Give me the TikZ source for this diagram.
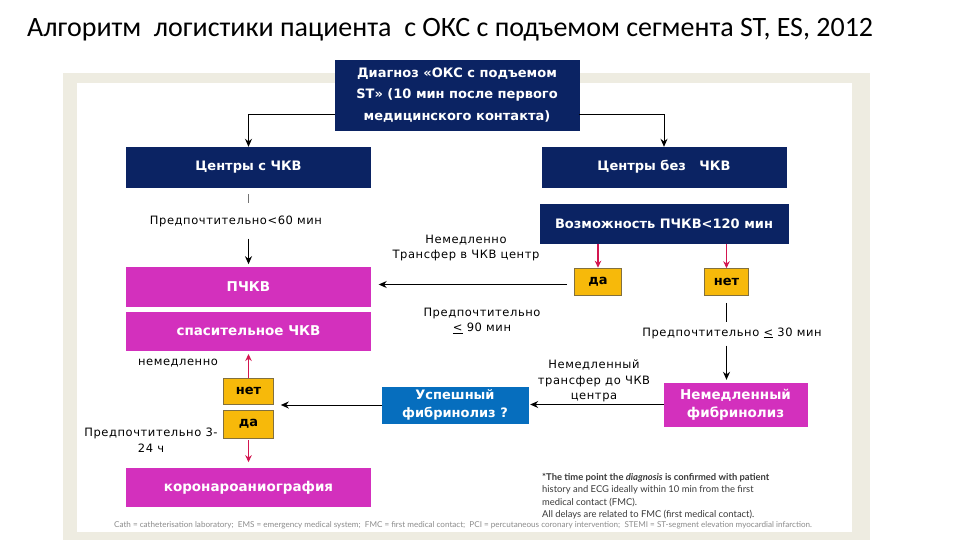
\documentclass[tikz,border=0pt]{standalone}
\usepackage{fontspec}
\setmainfont{DejaVu Sans}
\newfontfamily\titlefont{Carlito}
\newfontfamily\labelfont[LetterSpace=5]{DejaVu Sans}
\newfontfamily\notefont{Lato}
\usetikzlibrary{arrows.meta,positioning,calc}
\definecolor{navybox}{RGB}{11,35,99}
\definecolor{pinkfill}{RGB}{211,48,189}
\definecolor{answergold}{RGB}{247,185,10}
\definecolor{answeredge}{RGB}{130,112,62}
\definecolor{fibblue}{RGB}{6,110,190}
\definecolor{alarmred}{RGB}{211,22,80}
\definecolor{framebeige}{RGB}{238,236,225}
\definecolor{notegray}{RGB}{58,58,58}
\definecolor{abbrevgray}{RGB}{140,140,140}
\tikzset{
  >={Stealth[length=8pt,width=7pt]},
  flow/.style={->, line width=1pt, draw=black},
  redflow/.style={-{Stealth[length=7pt,width=6.5pt]}, line width=1.1pt, draw=alarmred},
  tick/.style={line width=0.8pt, draw=black},
  navystage/.style={shape=rectangle, fill=navybox, draw=navybox, text=white, align=center, inner sep=2pt, minimum width=244pt, minimum height=40pt, font=\bfseries\fontsize{13}{16}\selectfont},
  diagbox/.style={navystage, minimum height=70pt, font=\bfseries\fontsize{13}{21.5}\selectfont},
  pinkstage/.style={navystage, fill=pinkfill, draw=pinkfill, minimum height=39pt, font=\bfseries\fontsize{13.5}{18.5}\selectfont},
  bluestage/.style={navystage, fill=fibblue, draw=fibblue, minimum width=146pt, minimum height=36pt, font=\bfseries\fontsize{13}{18.5}\selectfont},
  answer/.style={shape=rectangle, fill=answergold, draw=answeredge, line width=0.6pt, text=black, inner sep=1pt, minimum width=47pt, minimum height=27pt, font=\bfseries\fontsize{13}{15}\selectfont},
  note/.style={align=center, inner sep=1pt, text=black, font=\labelfont\fontsize{11.5}{15.5}\selectfont},
  fmcnote/.style={align=left, inner sep=0pt, text=notegray, font=\notefont\fontsize{9.4}{12.4}\selectfont},
  abbrev/.style={inner sep=0pt, text=abbrevgray, font=\notefont\fontsize{8.1}{9}\selectfont}
}

\begin{document}
\begin{tikzpicture}[x=1pt,y=-1pt]
  \useasboundingbox (0,0) rectangle (960,540);
  \fill[framebeige] (63,73) rectangle (870,540);
  \fill[white] (77,83) rectangle (852,532);

  \node[anchor=west, inner sep=0pt, font=\titlefont\fontsize{28}{32}\selectfont] (title) at (27,30) {Алгоритм\ \ логистики пациента\ \ с ОКС с подъемом сегмента ST, ES, 2012};

  \node[diagbox] (diag) at (457,95) {Диагноз «ОКС с подъемом\\ST» (10 мин после первого\\медицинского контакта)};
  \node[navystage] (ctrpci) at (248.5,167) {Центры с ЧКВ};
  \node[navystage] (ctrnopci) at (664,167) {Центры без\ \ \ ЧКВ};
  \node[navystage, minimum width=248pt, minimum height=39pt, below=17pt of ctrnopci] (possib) {Возможность ПЧКВ<120 мин};
  \node[answer] (yes1) at (598,281.5) {да};
  \node[answer, minimum width=44pt] (no1) at (726.5,282) {нет};

  \node[pinkstage, below=80pt of ctrpci] (pci) {ПЧКВ};
  \node[pinkstage, minimum height=38pt, below=5pt of pci] (rescue) {спасительное ЧКВ};
  \node[answer, minimum width=50pt, minimum height=26pt, below=28pt of rescue] (no2) {нет};
  \node[answer, minimum width=50pt, minimum height=28pt, below=5pt of no2] (yes2) {да};
  \node[pinkstage, minimum height=38pt, below=30pt of yes2] (cag) {коронароаниография};

  \node[pinkstage, minimum width=143pt, minimum height=43pt] (fibr) at (735.5,404.5) {Немедленный\\фибринолиз};
  \node[bluestage] (success) at (455,405) {Успешный\\фибринолиз ?};

  \node[note] (lbl60) at (236,221) {Предпочтительно<60 мин};
  \node[note] (lbltransfer) at (466,248) {Немедленно\\Трансфер в ЧКВ центр};
  \node[note] (lbl90) at (482,321) {Предпочтительно\\\underline{<} 90 мин};
  \node[note] (lbl30) at (732,333) {Предпочтительно \underline{<} 30 мин};
  \node[note] (lbltransfer2) at (594,381) {Немедленный\\трансфер до ЧКВ\\центра};
  \node[note] (lblnow) at (178,363) {немедленно};
  \node[note] (lbl324) at (151,440) {Предпочтительно 3-\\24 ч};

  \draw[flow] ([yshift=-20pt]diag.west) -| (ctrpci.north);
  \draw[flow] ([yshift=-20pt]diag.east) -| (ctrnopci.north);
  \draw[tick, draw=black!55, shorten <=7pt, shorten >=11pt] (ctrpci.south) -- (lbl60.north -| ctrpci.south);
  \draw[flow, shorten <=11pt, shorten >=3pt] (lbl60.south -| ctrpci.south) -- (pci.north);
  \draw[redflow] (possib.south -| yes1.north) -- (yes1.north);
  \draw[redflow] (possib.south -| no1.north) -- (no1.north);
  \draw[flow, shorten <=7pt, shorten >=8pt] ([yshift=-3pt]yes1.west) -- ([yshift=-3pt]yes1.west -| pci.east);
  \draw[tick, shorten <=7pt, shorten >=4pt] (no1.south) -- (lbl30.north -| no1.south);
  \draw[flow, shorten <=6pt, shorten >=3pt] (lbl30.south -| no1.south) -- (fibr.north -| no1.south);
  \draw[flow, shorten >=2pt] (fibr.west) -- (fibr.west -| success.east);

  % arrow into the gap between the two answers
  \coordinate (answergap) at ($(no2.south east)!0.5!(yes2.north east)$);
  \draw[flow, shorten >=7pt] (success.west) -- (success.west -| answergap);
  \draw[redflow, shorten >=4pt] (no2.north) -- (rescue.south);
  \draw[redflow, shorten <=2pt, shorten >=6pt] (yes2.south) -- (cag.north);

  \node[fmcnote, anchor=north west] (fmcnote) at (542,473) {\textbf{*The time point the \textit{diagnosis} is confirmed with patient}\\history and ECG ideally within 10 min from the first\\medical contact (FMC).\\All delays are related to FMC (first medical contact).};
  \node[abbrev] (abbrevs) at (463,525) {Cath = catheterisation laboratory;\ \ EMS = emergency medical system;\ \ FMC = first medical contact;\ \ PCI = percutaneous coronary intervention;\ \ STEMI = ST-segment elevation myocardial infarction.};
\end{tikzpicture}
\end{document}
